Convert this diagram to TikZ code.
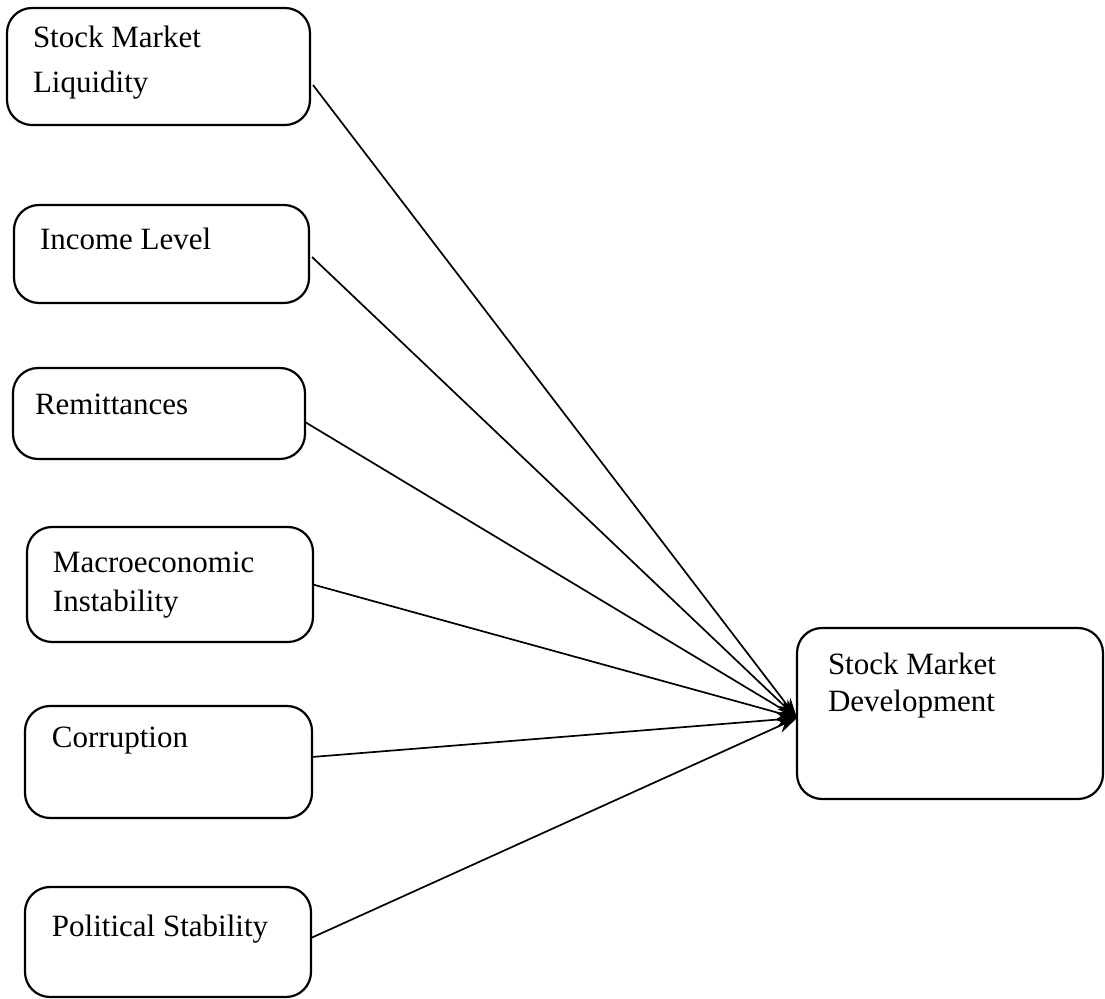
\documentclass[tikz,border=0pt]{standalone}
\usepackage{fontspec}
\setmainfont{Liberation Serif}
\usetikzlibrary{arrows.meta,calc}
\tikzset{
  box/.style={draw, line width=1.1pt, rounded corners=12.5pt, inner sep=0pt, outer sep=0pt},
  lbl/.style={anchor=base west, inner sep=0pt, outer sep=0pt, font=\fontsize{15.5}{18}\selectfont},
  link/.style={line width=0.85pt, -{Stealth[length=10pt,width=7pt]}}
}
\begin{document}
\begin{tikzpicture}[x=0.5pt,y=-0.5pt]
\useasboundingbox (0,0) rectangle (1105,999);
% boxes
\node[box, minimum width=151.5pt, minimum height=58.5pt] (b1) at (158.5,66.5) {};
\node[box, minimum width=147.5pt, minimum height=49pt] (b2) at (161.5,254) {};
\node[box, minimum width=146pt, minimum height=45.5pt] (b3) at (159,413.5) {};
\node[box, minimum width=143pt, minimum height=57.5pt] (b4) at (170,584.5) {};
\node[box, minimum width=143.5pt, minimum height=56pt] (b5) at (168.5,762) {};
\node[box, minimum width=143pt, minimum height=55pt] (b6) at (168,942) {};
\node[box, minimum width=153pt, minimum height=85.5pt] (dev) at (950,713.5) {};
% labels
\node[lbl] (t1a) at (33,48) {Stock Market};
\node[lbl] (t1b) at (33,93) {Liquidity};
\node[lbl] (t2) at (40,250) {Income Level};
\node[lbl] (t3) at (35,415) {Remittances};
\node[lbl] (t4a) at (53,573) {Macroeconomic};
\node[lbl] (t4b) at (53,612) {Instability};
\node[lbl] (t5) at (52,748) {Corruption};
\node[lbl] (t6) at (52,937) {Political Stability};
\node[lbl] (t7a) at (828,675) {Stock Market};
\node[lbl] (t7b) at (828,712) {Development};
% connectors
\coordinate (tip) at ([yshift=-2.25pt]dev.west);
\draw[link] ([xshift=1.5pt,yshift=-9.25pt]b1.east) -- (tip);
\draw[link] ([xshift=1.5pt,yshift=-1.5pt]b2.east) -- (tip);
\draw[link] ([yshift=-4.25pt]b3.east) -- (tip);
\draw[link] (b4.east) -- (tip);
\draw[link] ([yshift=2.5pt]b5.east) -- (tip);
\draw[link] ([yshift=2pt]b6.east) -- (tip);
\end{tikzpicture}
\end{document}
